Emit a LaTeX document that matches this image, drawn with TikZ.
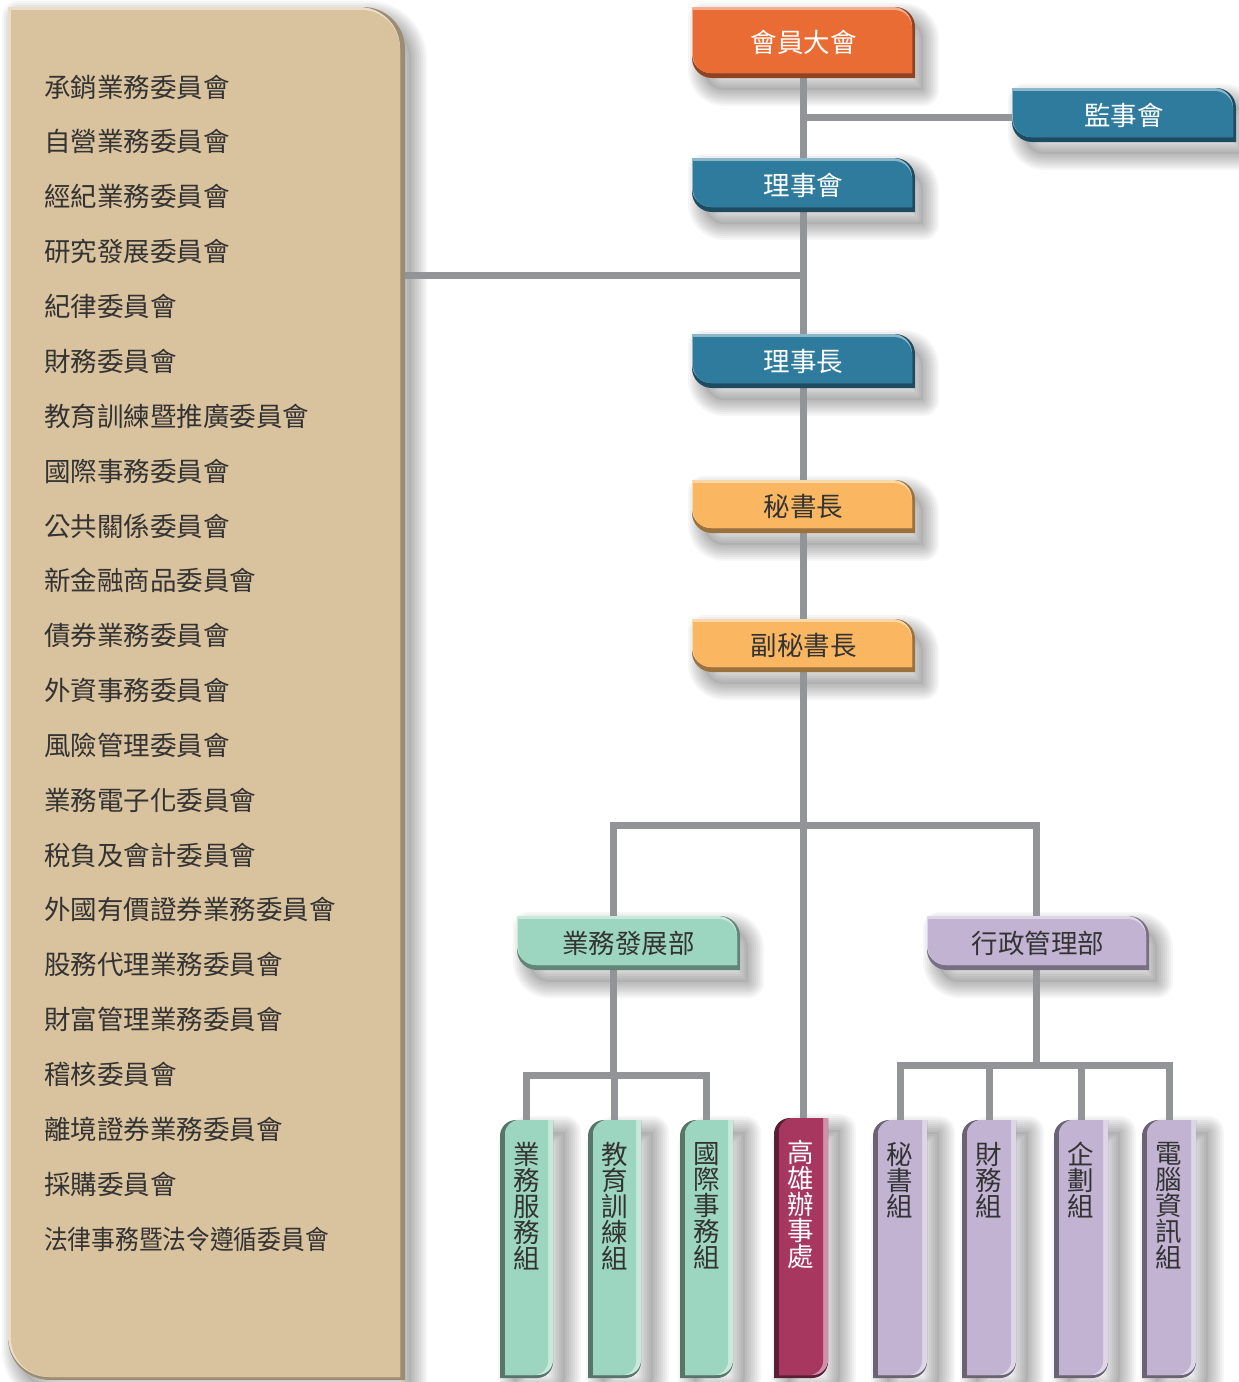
\documentclass[tikz,border=0pt]{standalone}
\usepackage{fontspec}
\newfontfamily\cjk{Noto Sans CJK TC}
\pgfdeclarelayer{shadow}
\pgfdeclarelayer{lines}
\pgfsetlayers{shadow,lines,main}
\definecolor{cOr}{HTML}{E86C33}
\definecolor{cBl}{HTML}{2F7B9E}
\definecolor{cYe}{HTML}{FAB660}
\definecolor{cMi}{HTML}{9DD6C0}
\definecolor{cLa}{HTML}{C3B3D3}
\definecolor{cMa}{HTML}{A8375F}
\definecolor{cTan}{HTML}{D9C29E}
\definecolor{cLine}{HTML}{939497}
\definecolor{cTxt}{HTML}{333333}
\tikzset{
  lbl/.style={font=\cjk\fontsize{26.5}{26}\selectfont, inner sep=0pt},
  boxnode/.style={inner sep=0pt, outer sep=0pt},
  conn/.style={draw=cLine, line width=7pt},
  shd/.style={draw=black, draw opacity=0.035, line join=round},
  shdfill/.style={fill=black, fill opacity=0.06}
}
% path with rounded top-right and bottom-left corners
\newcommand\fillH[6]{\path[#6] ({#1},{#2}) -- ({#3-#5},{#2}) .. controls ({#3-0.448*#5},{#2}) and ({#3},{#2+0.448*#5}) .. ({#3},{#2+#5}) -- ({#3},{#4}) -- ({#1+#5},{#4}) .. controls ({#1+0.448*#5},{#4}) and ({#1},{#4-0.448*#5}) .. ({#1},{#4-#5}) -- cycle;}
% path with rounded top-left and bottom-right corners
\newcommand\fillV[6]{\path[#6] ({#1},{#2+#5}) .. controls ({#1},{#2+0.448*#5}) and ({#1+0.448*#5},{#2}) .. ({#1+#5},{#2}) -- ({#3},{#2}) -- ({#3},{#4-#5}) .. controls ({#3},{#4-0.448*#5}) and ({#3-0.448*#5},{#4}) .. ({#3-#5},{#4}) -- ({#1},{#4}) -- cycle;}
\newcommand\shadH[5]{\begin{pgfonlayer}{shadow}\fillH{#1+12}{#2+12}{#3+8}{#4+12}{#5}{shdfill}\foreach \w in {32,28,24,20,16,12,8,4}{\fillH{#1+12}{#2+12}{#3+8}{#4+12}{#5}{shd,line width=\w pt}}\end{pgfonlayer}}
\newcommand\shadV[5]{\begin{pgfonlayer}{shadow}\fillV{#1+14}{#2+12}{#3+12}{#4+14}{#5}{shdfill}\foreach \w in {32,28,24,20,16,12,8,4}{\fillV{#1+14}{#2+12}{#3+12}{#4+14}{#5}{shd,line width=\w pt}}\end{pgfonlayer}}
% name x1 y1 x2 y2 color textcolor text
\newcommand\boxH[8]{%
  \shadH{#2}{#3}{#4}{#5}{20}
  \fillH{#2}{#3}{#4}{#5}{20}{fill=#6!62!black}
  \fillH{#2}{#3}{#4-3}{#5-5}{19}{fill=#6!55!white}
  \fillH{#2+1}{#3+3}{#4-3}{#5-5}{18}{fill=#6}
  \node[lbl, boxnode, text=#7, minimum width={(#4-#2)*1pt}, minimum height={(#5-#3)*1pt}] (#1) at ({(#2+#4)/2},{(#3+#5)/2}) {#8};
}
\newcommand\boxV[8]{%
  \shadV{#2}{#3}{#4}{#5}{16}
  \fillV{#2}{#3}{#4}{#5}{16}{fill=#6!55!black}
  \fillV{#2+5}{#3}{#4}{#5-3}{15}{fill=#6!55!white}
  \fillV{#2+5}{#3}{#4-5}{#5-3}{14}{fill=#6}
  \node[boxnode, minimum width={(#4-#2)*1pt}, minimum height={(#5-#3)*1pt}] (#1) at ({(#2+#4)/2},{(#3+#5)/2}) {};
  \node[lbl, text=#7, anchor=north, align=center] (#1t) at ([yshift=-22pt]#1.north) {#8};
}
\begin{document}
\begin{tikzpicture}[x=1pt,y=-1pt]
\begin{pgfonlayer}{shadow}
\fill[white] (0,0) rectangle (1239,1382);
\end{pgfonlayer}
\useasboundingbox (0,0) rectangle (1239,1382);
% committee panel
\begin{pgfonlayer}{shadow}
\fillH{18}{17}{411}{1392}{42}{shdfill}
\foreach \w in {32,28,24,20,16,12,8,4}{\fillH{18}{17}{411}{1392}{42}{shd,line width=\w pt}}
\end{pgfonlayer}
\fillH{8}{7}{405}{1380}{42}{fill=cTan!60!black!70!cTan}
\fillH{8}{7}{400}{1377}{41}{fill=cTan!55!white}
\fillH{11}{10}{400}{1377}{39}{fill=cTan}
\node[boxnode, minimum width=397pt, minimum height=1373pt] (t) at (206.5,693.5) {};
\foreach \s [count=\i from 0] in {承銷業務委員會,自營業務委員會,經紀業務委員會,研究發展委員會,紀律委員會,財務委員會,教育訓練暨推廣委員會,國際事務委員會,公共關係委員會,新金融商品委員會,債券業務委員會,外資事務委員會,風險管理委員會,業務電子化委員會,稅負及會計委員會,外國有價證券業務委員會,股務代理業務委員會,財富管理業務委員會,稽核委員會,離境證券業務委員會,採購委員會}
  \node[lbl, text=cTxt, anchor=west] (c\i) at (44,{87+54.857*\i}) {\s};
\node[lbl, text=cTxt, anchor=west, xscale=0.895, transform shape] (c21) at (44,{87+54.857*21}) {法律事務暨法令遵循委員會};
% main chain
\boxH{a}{692}{7}{915}{78}{cOr}{white}{會員大會}
\boxH{b}{1012}{88}{1236}{142}{cBl}{white}{監事會}
\boxH{c}{692}{158}{915}{212}{cBl}{white}{理事會}
\boxH{d}{692}{334}{915}{388}{cBl}{white}{理事長}
\boxH{e}{692}{480}{915}{533}{cYe}{cTxt}{秘書長}
\boxH{f}{692}{619}{915}{672}{cYe}{cTxt}{副秘書長}
\boxH{d1}{517}{916}{740}{970}{cMi}{cTxt}{業務發展部}
\boxH{d2}{927}{916}{1149}{970}{cLa}{cTxt}{行政管理部}
% units
\boxV{v1}{500}{1120}{553}{1378}{cMi}{cTxt}{業\\務\\服\\務\\組}
\boxV{v2}{588}{1120}{641}{1378}{cMi}{cTxt}{教\\育\\訓\\練\\組}
\boxV{v3}{680}{1120}{733}{1378}{cMi}{cTxt}{國\\際\\事\\務\\組}
\boxV{g}{774}{1118}{828}{1378}{cMa}{white}{高\\雄\\辦\\事\\處}
\boxV{v5}{873}{1120}{927}{1378}{cLa}{cTxt}{秘\\書\\組}
\boxV{v6}{962}{1120}{1016}{1378}{cLa}{cTxt}{財\\務\\組}
\boxV{v7}{1054}{1120}{1108}{1378}{cLa}{cTxt}{企\\劃\\組}
\boxV{v8}{1142}{1120}{1196}{1378}{cLa}{cTxt}{電\\腦\\資\\訊\\組}
% junctions
\coordinate (j1) at (803,275);
\coordinate (j2) at (803,825);
\coordinate (j3) at (613,1075);
\coordinate (j4) at (1036,1065);
\begin{pgfonlayer}{lines}
\draw[conn] (a.south) -- (a.south |- g.north);
\draw[conn] (a.south |- 0,117) -- (b.west |- 0,117);
\draw[conn] (t.east |- j1) -- (j1);
\draw[conn] (j3 |- d1.north) |- (j2) -| (j4 |- d2.north);
\draw[conn] (j3 |- d1.south) -- (j3);
\draw[conn] (v1.north) |- (j3) -| (v3.north);
\draw[conn] (j3) -- (j3 -| v2.north) -- (v2.north);
\draw[conn] (j4 |- d2.south) -- (j4);
\draw[conn] (v5.north) |- (j4) -| (v8.north);
\draw[conn] (v6.north) -- (v6.north |- j4);
\draw[conn] (v7.north) -- (v7.north |- j4);
\end{pgfonlayer}
\end{tikzpicture}
\end{document}
